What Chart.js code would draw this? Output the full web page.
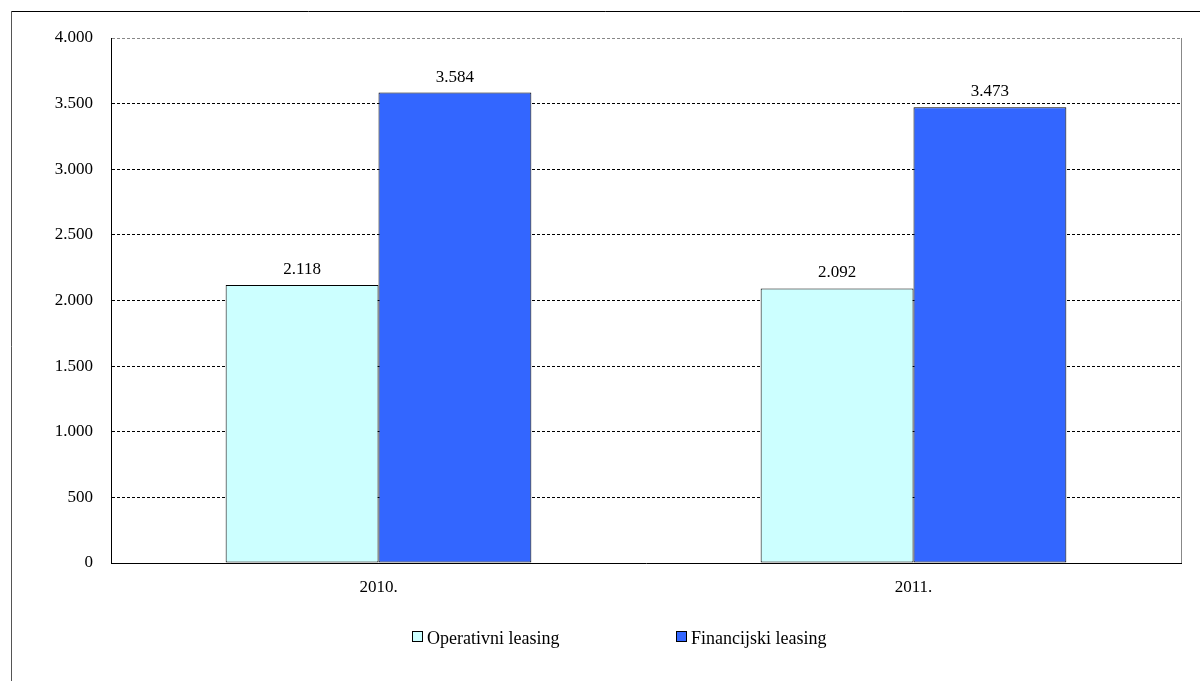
<!DOCTYPE html>
<html>
<head>
<meta charset="utf-8">
<script src="https://cdn.jsdelivr.net/npm/chart.js@4"></script>
<style>
  html, body { margin: 0; padding: 0; background: #fff; }
  #wrap { width: 1200px; height: 681px; }
</style>
</head>
<body>
<div id="wrap"><canvas id="leasingChart" width="1200" height="681"></canvas></div>
<script>
"use strict";
// data
const years = ['2010.', '2011.'];
const operativni = [2118, 2092];
const financijski = [3584, 3473];
const seriesNames = ['Operativni leasing', 'Financijski leasing'];
const yTicks = [0, 500, 1000, 1500, 2000, 2500, 3000, 3500, 4000];
const yTickLabels = ['0', '500', '1.000', '1.500', '2.000', '2.500', '3.000', '3.500', '4.000'];

const FONT = '"Liberation Serif", "Times New Roman", serif';

function fmt(v) {
    return String(v).replace(/\B(?=(\d{3})+(?!\d))/g, '.');
}

// frame around the whole picture + plot right border
const framePlugin = {
    id: 'frame',
    beforeDraw(chart) {
        const ctx = chart.ctx;
        ctx.save();
        ctx.fillStyle = '#fff';
        ctx.fillRect(0, 0, chart.width, chart.height);
        ctx.strokeStyle = '#555';
        ctx.lineWidth = 1;
        ctx.beginPath();
        ctx.moveTo(11.5, chart.height);
        ctx.lineTo(11.5, 11.5);
        ctx.stroke();
        ctx.strokeStyle = '#000';
        ctx.beginPath();
        ctx.moveTo(11.5, 11.5);
        ctx.lineTo(chart.width, 11.5);
        ctx.stroke();
        ctx.restore();
    },
    afterDraw(chart) {
        const a = chart.chartArea;
        const ctx = chart.ctx;
        ctx.save();
        ctx.strokeStyle = '#888';
        ctx.lineWidth = 1;
        ctx.beginPath();
        ctx.moveTo(Math.round(a.right) + 0.5, a.top);
        ctx.lineTo(Math.round(a.right) + 0.5, a.bottom);
        ctx.stroke();
        ctx.restore();
    }
};

// value labels above each bar
const valueLabels = {
    id: 'valueLabels',
    afterDatasetsDraw(chart) {
        const ctx = chart.ctx;
        ctx.save();
        ctx.font = '17px ' + FONT;
        ctx.fillStyle = '#000';
        ctx.textAlign = 'center';
        ctx.textBaseline = 'alphabetic';
        chart.data.datasets.forEach((ds, i) => {
            chart.getDatasetMeta(i).data.forEach((el, j) => {
                ctx.fillText(fmt(ds.data[j]), el.x, el.y - 11);
            });
        });
        ctx.restore();
    }
};

// legend under the axis
const bottomLegend = {
    id: 'bottomLegend',
    afterDraw(chart) {
        const ctx = chart.ctx;
        const starts = [412, 676];
        ctx.save();
        ctx.font = '18px ' + FONT;
        ctx.textBaseline = 'alphabetic';
        ctx.textAlign = 'left';
        chart.data.datasets.forEach((ds, i) => {
            const x = starts[i];
            ctx.fillStyle = ds.backgroundColor;
            ctx.fillRect(x + 0.5, 631.5, 10, 10);
            ctx.strokeStyle = '#000';
            ctx.lineWidth = 1;
            ctx.strokeRect(x + 0.5, 631.5, 10, 10);
            ctx.fillStyle = '#000';
            ctx.fillText(ds.label, x + 15, 644);
        });
        ctx.restore();
    }
};

const ctx = document.getElementById('leasingChart').getContext('2d');
new Chart(ctx, {
    type: 'bar',
    data: {
        labels: years,
        datasets: [{
            label: seriesNames[0],
            data: operativni,
            backgroundColor: '#CCFFFF',
            borderColor: '#000',
            borderWidth: 1,
            borderSkipped: false
        }, {
            label: seriesNames[1],
            data: financijski,
            backgroundColor: '#3366FF',
            borderColor: '#000',
            borderWidth: 1,
            borderSkipped: false
        }]
    },
    options: {
        responsive: false,
        animation: false,
        devicePixelRatio: 1,
        layout: {
            padding: { left: 11, top: 38, right: 19, bottom: 88 }
        },
        datasets: {
            bar: {
                categoryPercentage: 2 / 3.5,
                barPercentage: 1
            }
        },
        scales: {
            x: {
                grid: { display: false, drawTicks: false },
                border: { display: true, color: '#000', width: 1 },
                ticks: {
                    padding: 14,
                    color: '#000',
                    font: { family: FONT, size: 17 }
                },
                afterFit(s) { s.height = 30; }
            },
            y: {
                min: 0,
                max: 4000,
                afterBuildTicks(s) {
                    s.ticks = yTicks.map(v => ({ value: v }));
                },
                grid: {
                    drawTicks: false,
                    color: c => (c.tick && c.tick.value === 4000) ? '#888' : '#000',
                    lineWidth: 1
                },
                border: { display: true, color: '#000', width: 1, dash: [3, 2] },
                ticks: {
                    padding: 18,
                    color: '#000',
                    font: { family: FONT, size: 17 },
                    callback: (v, i) => yTickLabels[i]
                },
                afterFit(s) { s.width = 100; }
            }
        },
        plugins: {
            legend: { display: false },
            tooltip: { enabled: false }
        }
    },
    plugins: [framePlugin, valueLabels, bottomLegend]
});
</script>
</body>
</html>
